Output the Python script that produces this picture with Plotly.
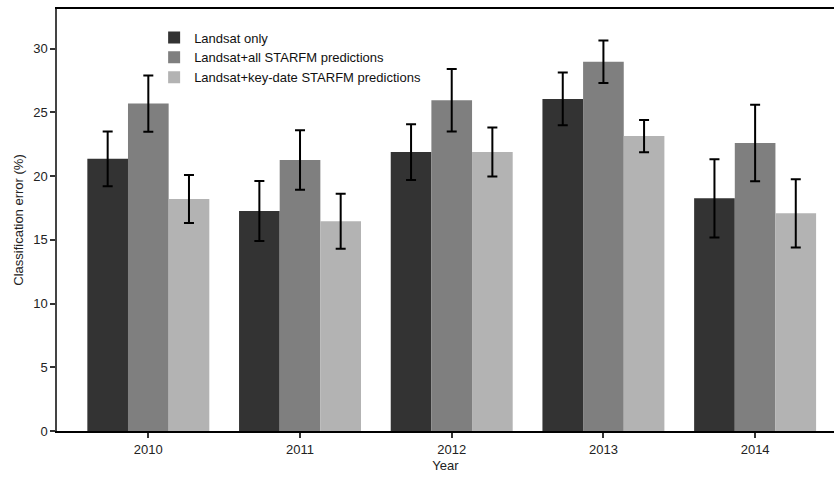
import plotly.graph_objects as go

# Classification error by year for three input-data configurations
years = ["2010", "2011", "2012", "2013", "2014"]
series_names = [
    "Landsat only",
    "Landsat+all STARFM predictions",
    "Landsat+key-date STARFM predictions",
]
landsat_only = [21.35, 17.25, 21.88, 26.05, 18.25]
landsat_only_err = [2.15, 2.35, 2.19, 2.07, 3.07]
all_starfm = [25.68, 21.25, 25.95, 28.96, 22.58]
all_starfm_err = [2.2, 2.33, 2.45, 1.67, 3.0]
keydate_starfm = [18.2, 16.45, 21.88, 23.13, 17.07]
keydate_starfm_err = [1.88, 2.15, 1.92, 1.27, 2.68]

values = [landsat_only, all_starfm, keydate_starfm]
errors = [landsat_only_err, all_starfm_err, keydate_starfm_err]
colors = ["#333333", "#7f7f7f", "#b3b3b3"]

x_idx = list(range(len(years)))

fig = go.Figure()
for name, vals, errs, col in zip(series_names, values, errors, colors):
    fig.add_trace(go.Bar(
        x=x_idx, y=vals, name=name,
        marker=dict(color=col, line=dict(width=0)),
        error_y=dict(type="data", array=errs, visible=True,
                     color="black", thickness=2, width=5),
    ))

font_family = "Liberation Sans, Arial, sans-serif"
fig.update_layout(
    width=834, height=477,
    margin=dict(l=57, r=0, t=9, b=46),
    paper_bgcolor="white", plot_bgcolor="white",
    barmode="group", bargap=0.196, bargroupgap=0,
    font=dict(family=font_family, size=13, color="#222222"),
    showlegend=True,
    legend=dict(
        x=0.125, y=0.968, xanchor="left", yanchor="top",
        bgcolor="rgba(0,0,0,0)", borderwidth=0,
        font=dict(family=font_family, size=13, color="#111111"),
        tracegroupgap=0, itemsizing="constant",
    ),
    xaxis=dict(
        tickmode="array", tickvals=x_idx, ticktext=years,
        range=[-0.602, 4.52],
        showline=True, linecolor="black", linewidth=2, mirror=True,
        ticks="outside", ticklen=5, tickwidth=1.5, tickcolor="#333333",
        showgrid=False, zeroline=False,
        title=dict(text="Year", font=dict(size=13, color="#222222"), standoff=5),
        tickfont=dict(size=13, color="#222222"),
    ),
    yaxis=dict(
        range=[0, 33.1],
        tickvals=[0, 5, 10, 15, 20, 25, 30],
        showline=True, linecolor="#444444", linewidth=1.5,
        ticks="outside", ticklen=5, tickwidth=1.5, tickcolor="#333333",
        showgrid=False, zeroline=False,
        title=dict(text="Classification error (%)", font=dict(size=13, color="#222222"), standoff=7),
        tickfont=dict(size=13, color="#222222"),
    ),
)

fig.write_html("out.html")
